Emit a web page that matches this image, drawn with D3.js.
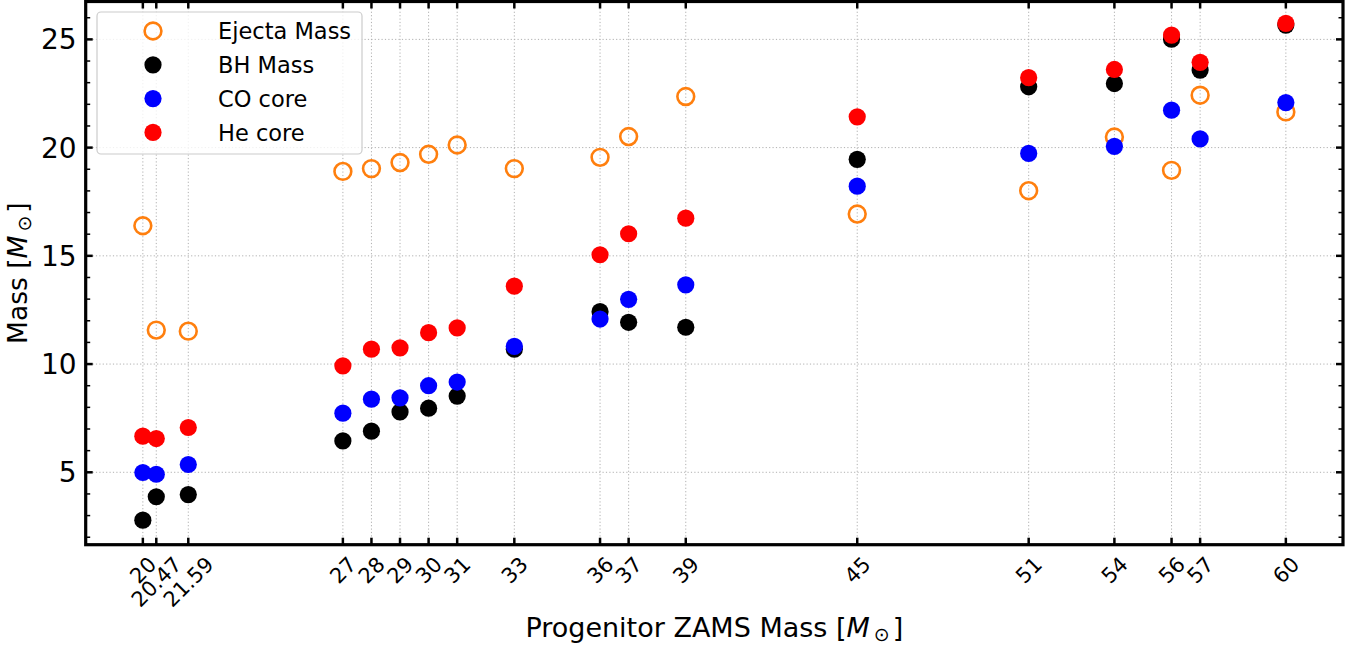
<!DOCTYPE html>
<html>
<head>
<meta charset="utf-8">
<script src="https://cdn.jsdelivr.net/npm/d3@7"></script>
<style>
  body { margin: 0; background: #fff; }
  svg { display: block; font-family: "DejaVu Sans", sans-serif; }
</style>
</head>
<body>
<svg class="chart"></svg>
<script>
// progenitor ZAMS masses and the tick labels shown for them
var zams = [20, 20.47, 21.59, 27, 28, 29, 30, 31, 33, 36, 37, 39, 45, 51, 54, 56, 57, 60];
var zamsLabels = ["20", "20.47", "21.59", "27", "28", "29", "30", "31", "33", "36", "37", "39", "45", "51", "54", "56", "57", "60"];

var ejectaMass = [16.39, 11.57, 11.52, 18.90, 19.03, 19.31, 19.69, 20.12, 19.03, 19.55, 20.51, 22.36, 16.93, 18.01, 20.49, 18.95, 22.42, 21.65];
var bhMass = [2.79, 3.87, 3.97, 6.45, 6.90, 7.79, 7.96, 8.52, 10.69, 12.42, 11.93, 11.70, 19.46, 22.81, 22.96, 25.01, 23.58, 25.66];
var coCore = [4.99, 4.91, 5.36, 7.73, 8.38, 8.44, 9.00, 9.17, 10.82, 12.08, 12.99, 13.66, 18.22, 19.73, 20.06, 21.73, 20.40, 22.08];
var heCore = [6.67, 6.56, 7.07, 9.92, 10.69, 10.75, 11.45, 11.67, 13.60, 15.05, 16.02, 16.74, 21.42, 23.23, 23.61, 25.20, 23.94, 25.74];

var yTicks = [5, 10, 15, 20, 25];
var yMinorTicks = d3.range(2, 27);

function show() {
    'use strict';
    var W = 1364, H = 649;
    var left = 85.7, right = 1343, top = 1.5, bottom = 544.7;

    var svg = d3.select(".chart").attr("width", W).attr("height", H);

    var x = d3.scaleLinear().domain([18, 62]).range([left, right]);
    var y = d3.scaleLinear().domain([1.655, 26.75]).range([bottom, top]);

    // grid
    var grid = svg.append("g").attr("stroke", "#b0b0b0").attr("stroke-width", 1)
        .attr("stroke-dasharray", "1.2,2.2");
    grid.selectAll("line.gx").data(zams).enter().append("line")
        .attr("x1", function (d) { return x(d); }).attr("x2", function (d) { return x(d); })
        .attr("y1", top).attr("y2", bottom);
    grid.selectAll("line.gy").data(yTicks).enter().append("line")
        .attr("y1", function (d) { return y(d); }).attr("y2", function (d) { return y(d); })
        .attr("x1", left).attr("x2", right);

    // series, drawn in legend order
    var series = [
        {name: "Ejecta Mass", values: ejectaMass, color: "#ff7f0e", open: true},
        {name: "BH Mass", values: bhMass, color: "#000000"},
        {name: "CO core", values: coCore, color: "#0000ff"},
        {name: "He core", values: heCore, color: "#ff0000"}
    ];

    series.forEach(function (s) {
        svg.append("g").selectAll("circle").data(s.values).enter()
            .append("circle")
            .attr("cx", function (d, i) { return x(zams[i]); })
            .attr("cy", function (d) { return y(d); })
            .attr("r", s.open ? 8.4 : 8.6)
            .attr("fill", s.open ? "none" : s.color)
            .attr("stroke", s.open ? s.color : "none")
            .attr("stroke-width", 2.6);
    });

    // ticks (inward, all four sides)
    var ticks = svg.append("g").attr("stroke", "#000");
    zams.forEach(function (d) {
        ticks.append("line").attr("x1", x(d)).attr("x2", x(d))
            .attr("y1", bottom).attr("y2", bottom - 7).attr("stroke-width", 2.5);
        ticks.append("line").attr("x1", x(d)).attr("x2", x(d))
            .attr("y1", top).attr("y2", top + 7).attr("stroke-width", 2.5);
    });
    yMinorTicks.forEach(function (d) {
        var major = yTicks.indexOf(d) >= 0;
        var len = major ? 7 : 4.5, sw = major ? 2.5 : 1.5;
        ticks.append("line").attr("y1", y(d)).attr("y2", y(d))
            .attr("x1", left).attr("x2", left + len).attr("stroke-width", sw);
        ticks.append("line").attr("y1", y(d)).attr("y2", y(d))
            .attr("x1", right).attr("x2", right - len).attr("stroke-width", sw);
    });

    // frame
    svg.append("rect").attr("x", left).attr("y", top)
        .attr("width", right - left).attr("height", bottom - top)
        .attr("fill", "none").attr("stroke", "#000").attr("stroke-width", 3.2);

    // y tick labels
    svg.append("g").selectAll("text").data(yTicks).enter().append("text")
        .attr("x", left - 9).attr("y", function (d) { return y(d); })
        .attr("dy", "0.36em").attr("text-anchor", "end")
        .attr("font-size", 28).text(function (d) { return d; });

    // x tick labels, rotated 45 degrees
    var fsx = 21;
    zams.forEach(function (d, i) {
        var g = svg.append("g");
        var t = g.append("text").attr("text-anchor", "middle").attr("dy", "0.36em")
            .attr("font-size", fsx).text(zamsLabels[i]);
        var L = t.node().getComputedTextLength();
        var ext = (L + 0.73 * fsx) * Math.SQRT1_2;
        g.attr("transform", "translate(" + x(d) + "," + (555 + ext / 2) + ") rotate(-45)");
    });

    // axis labels
    var xl = svg.append("text").attr("x", (left + right) / 2).attr("y", 636.7)
        .attr("text-anchor", "middle").attr("font-size", 27);
    xl.append("tspan").text("Progenitor ZAMS Mass [");
    xl.append("tspan").attr("font-style", "italic").text("M");
    xl.append("tspan").attr("font-size", 19).attr("dy", 4).attr("dx", 4).text("\u2299");
    xl.append("tspan").attr("dy", -4).attr("dx", 3).text("]");

    var yl = svg.append("text").attr("transform", "translate(26.7," + ((top + bottom) / 2) + ") rotate(-90)")
        .attr("text-anchor", "middle").attr("font-size", 26.5);
    yl.append("tspan").text("Mass [");
    yl.append("tspan").attr("font-style", "italic").text("M");
    yl.append("tspan").attr("font-size", 19).attr("dy", 4).attr("dx", 4).text("\u2299");
    yl.append("tspan").attr("dy", -4).attr("dx", 3).text("]");

    // legend
    var lg = svg.append("g");
    lg.append("rect").attr("x", 97).attr("y", 12).attr("width", 265).attr("height", 142)
        .attr("rx", 4).attr("fill", "#fff").attr("fill-opacity", 0.8)
        .attr("stroke", "#cccccc").attr("stroke-width", 1.2);
    series.forEach(function (s, i) {
        var ry = 31 + i * 33.8;
        lg.append("circle").attr("cx", 153).attr("cy", ry)
            .attr("r", s.open ? 8.4 : 8.6)
            .attr("fill", s.open ? "none" : s.color)
            .attr("stroke", s.open ? s.color : "none")
            .attr("stroke-width", 2.6);
        lg.append("text").attr("x", 218).attr("y", ry).attr("dy", "0.36em")
            .attr("font-size", 22.5).text(s.name);
    });
}

show();
</script>
</body>
</html>
